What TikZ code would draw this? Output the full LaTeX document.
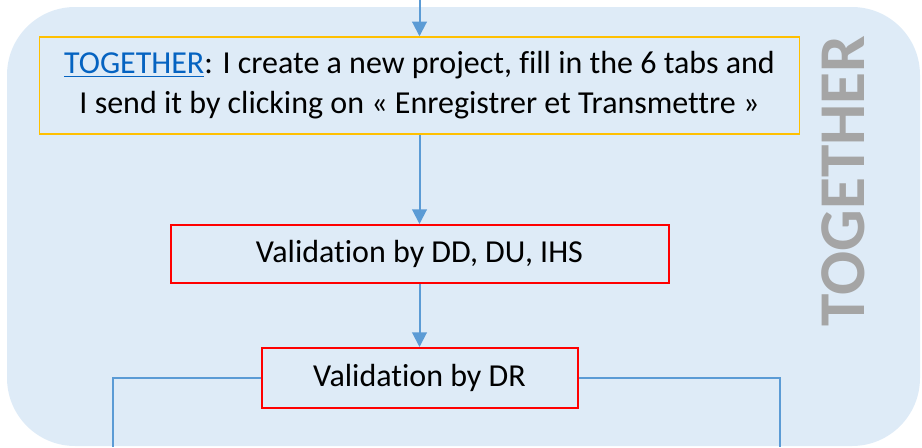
\documentclass[tikz,border=0pt]{standalone}
\usepackage{fontspec}
\setmainfont{Carlito}[Ligatures=NoCommon]
\usepackage{tikz}
\usetikzlibrary{calc}
\usetikzlibrary{arrows.meta}
\definecolor{bgblue}{RGB}{222,235,247}
\definecolor{arrblue}{RGB}{91,155,213}
\definecolor{linkblue}{RGB}{5,99,193}
\definecolor{ffcqqq}{RGB}{255,192,0}
\definecolor{ffqqqq}{rgb}{1.,0.,0.}
\definecolor{labelgray}{RGB}{165,165,165}
\tikzstyle{every node}=[font=\fontsize{24}{30}\selectfont]
\tikzstyle{stepbox}=[draw=ffqqqq,line width=1.5pt,inner sep=0pt,align=center]
\tikzstyle{flow}=[->,line width=1.5pt,color=arrblue]

\begin{document}
\begin{tikzpicture}[line cap=butt,line join=miter,>={Triangle[length=11pt,width=11pt]},x=0.75pt,y=-0.75pt]
            \useasboundingbox (0,0) rectangle (922,447);
            \fill [color=bgblue,rounded corners=68pt*0.75] (7,7) rectangle (920,446);
            \node [draw=ffcqqq,line width=1.1pt,inner sep=0pt,minimum width=760*0.75pt,minimum height=97*0.75pt,align=center] (create) at (419.5,85.5) {\textcolor{linkblue}{\underline{TOGETHER}}: I create a new project, fill in the 6 tabs and\\ I send it by clicking on « Enregistrer et Transmettre »};
            \node [stepbox,minimum width=498*0.75pt,minimum height=58*0.75pt] (ddu) at (419.5,254) {Validation by DD, DU, IHS};
            \node [stepbox,minimum width=316*0.75pt,minimum height=60*0.75pt] (dr) at (419.5,378) {Validation by DR};
            \node [rotate=90,text=labelgray,font=\fontsize{49}{55}\selectfont\bfseries] (side) at (843,181) {TOGETHER};
            \coordinate (entry) at (419.5,0);
            \coordinate (outL) at (113,447);
            \coordinate (outR) at (780,447);
            \draw [flow] (entry) -- (create.north);
            \draw [flow] (create.south) -- (ddu.north);
            \draw [flow] (ddu.south) -- (dr.north);
            \draw [line width=1.5pt,color=arrblue] (dr.west) -| (outL);
            \draw [line width=1.5pt,color=arrblue] (dr.east) -| (outR);
            \end{tikzpicture}
\end{document}
